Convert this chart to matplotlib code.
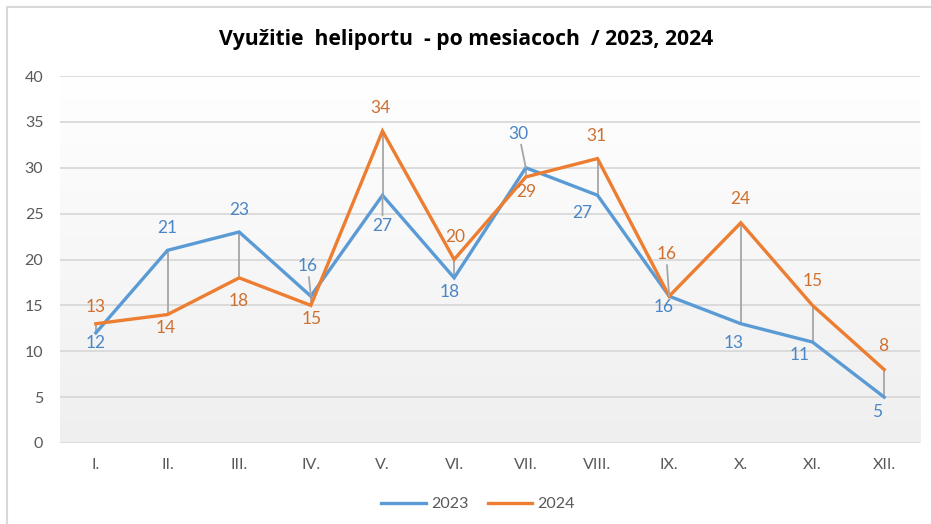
import numpy as np
import matplotlib.pyplot as plt
from matplotlib.patches import Rectangle
from matplotlib.lines import Line2D
from matplotlib.colors import LinearSegmentedColormap

plt.rcParams['font.family'] = ['Lato', 'DejaVu Sans']

mesiace = ['I.', 'II.', 'III.', 'IV.', 'V.', 'VI.', 'VII.', 'VIII.', 'IX.', 'X.', 'XI.', 'XII.']
rok_2023 = [12, 21, 23, 16, 27, 18, 30, 27, 16, 13, 11, 5]
rok_2024 = [13, 14, 18, 15, 34, 20, 29, 31, 16, 24, 15, 8]

# posun popiskov (pixely) a ktore maju odkazovu ciaru
pos_2023 = [(0, -10), (0, 22), (0, 22), (-3, 30), (0, -31), (-4, -14),
            (-7, 34), (-15, -18), (-6, -11), (-7, -19), (-13, -13), (-7, -15)]
pos_2024 = [(0, 17), (-2, -13), (0, -23), (1, -14), (-2, 23), (1, 22),
            (0, -15), (-1, 23), (-3, 42), (-1, 24), (0, 24), (-1, 24)]
leader_2023 = [3, 4, 6]
leader_2024 = [8]

modra = '#5B9BD5'
oranz = '#ED7D31'
seda = '#A6A6A6'

fig = plt.figure(figsize=(9.31, 5.24), dpi=100)
ax = fig.add_axes([60/931, 1-443/524, 860/931, 367/524])

x = np.arange(len(mesiace))

# gradient pozadia
cmap = LinearSegmentedColormap.from_list('bg', ['#efefef', '#ffffff'])
ax.imshow(np.linspace(0, 1, 256).reshape(-1, 1), cmap=cmap, origin='lower',
          extent=[-0.5, 11.5, 0, 40], aspect='auto', zorder=0)

ax.vlines(x, np.minimum(rok_2023, rok_2024), np.maximum(rok_2023, rok_2024),
          color=seda, lw=1.3, zorder=2)
ax.plot(x, rok_2023, color=modra, lw=2.4, zorder=3, solid_joinstyle='miter')
ax.plot(x, rok_2024, color=oranz, lw=2.4, zorder=4, solid_joinstyle='miter')

def popisky(vals, pos, leaders, col):
    for i, v in enumerate(vals):
        ap = None
        if i in leaders:
            ap = dict(arrowstyle='-', color=seda, lw=1.3, shrinkA=0, shrinkB=0)
        ax.annotate(str(v), (x[i], v), xytext=pos[i], textcoords='offset pixels',
                    ha='center', va='center', color=col, fontsize=12.5,
                    arrowprops=ap, zorder=5)

popisky(rok_2023, pos_2023, leader_2023, '#4A86C5')
popisky(rok_2024, pos_2024, leader_2024, '#D0702F')

ax.set_xlim(-0.5, 11.5)
ax.set_ylim(0, 40)
ax.set_yticks(range(0, 41, 5))
ax.set_xticks(x)
ax.set_xticklabels(mesiace)
ax.yaxis.grid(True, color='#D9D9D9', lw=1.3)
ax.set_axisbelow(True)
for s in ax.spines.values():
    s.set_visible(False)
ax.tick_params(length=0, labelcolor='#595959', labelsize=11.5)
ax.tick_params(axis='y', pad=12)
ax.tick_params(axis='x', pad=11)

fig.text(466/931, 1-40/524, 'Využitie  heliportu  - po mesiacoch  / 2023, 2024',
         ha='center', va='center', fontsize=15.2, fontweight='bold', color='black',
         family=['Open Sans', 'DejaVu Sans'])

handles = [Line2D([], [], color=modra, lw=2.4), Line2D([], [], color=oranz, lw=2.4)]
leg = fig.legend(handles, ['2023', '2024'], loc='center', bbox_to_anchor=(478/931, 1-504/524),
                 ncol=2, frameon=False, fontsize=11.5, handlelength=2.8, handletextpad=0.3,
                 columnspacing=1.2)
for t in leg.get_texts():
    t.set_color('#595959')

fig.patches.append(Rectangle((7/931, -0.05), 1.0, 1.05 - 7/524, transform=fig.transFigure,
                             fill=False, ec='#D9D9D9', lw=1.5))

fig.savefig('out.png', dpi=100)
